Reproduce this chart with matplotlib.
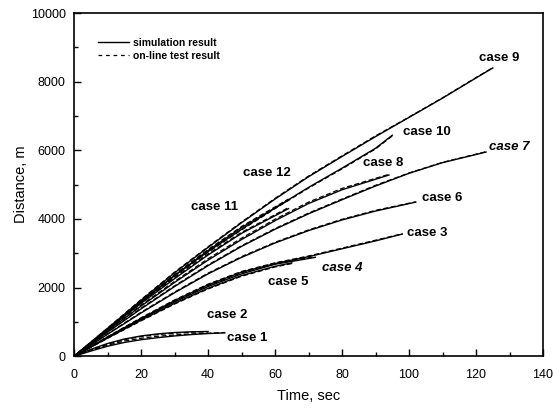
import matplotlib
matplotlib.use("Agg")
import matplotlib.pyplot as plt
from matplotlib.ticker import MultipleLocator

plt.rcParams['font.family'] = ['Liberation Sans', 'DejaVu Sans']

# time grids (sec) for each case
case_t = [
    [0, 5, 10, 15, 20, 25, 30, 35, 40, 45],                       # case 1
    [0, 5, 10, 15, 20, 25, 30, 35, 40],                           # case 2
    [0, 10, 20, 30, 40, 50, 60, 70, 80, 90, 98],                  # case 3
    [0, 10, 20, 30, 40, 50, 60, 72],                              # case 4
    [0, 10, 20, 30, 40, 50, 60, 65],                              # case 5
    [0, 10, 20, 30, 40, 50, 60, 70, 80, 90, 102],                 # case 6
    [0, 10, 20, 30, 40, 50, 60, 70, 80, 90, 100, 110, 123],       # case 7
    [0, 10, 20, 30, 40, 50, 60, 70, 80, 94],                      # case 8
    [0, 10, 20, 30, 40, 50, 60, 70, 80, 90, 100, 110, 120, 125],  # case 9
    [0, 10, 20, 30, 40, 50, 60, 70, 80, 90, 95],                  # case 10
    [0, 10, 20, 30, 40, 50, 64],                                  # case 11
    [0, 10, 20, 30, 40, 50, 64],                                  # case 12
]

# simulation result, distance (m)
case_sim = [
    [0, 150, 290, 400, 480, 540, 590, 630, 660, 680],
    [0, 200, 370, 500, 590, 650, 690, 710, 720],
    [0, 560, 1100, 1620, 2080, 2450, 2700, 2900, 3130, 3360, 3560],
    [0, 540, 1080, 1580, 2030, 2400, 2680, 2880],
    [0, 530, 1050, 1540, 1980, 2350, 2620, 2720],
    [0, 640, 1260, 1850, 2400, 2880, 3300, 3660, 3970, 4230, 4490],
    [0, 700, 1380, 2030, 2640, 3200, 3700, 4150, 4560, 4960, 5330, 5640, 5950],
    [0, 740, 1460, 2150, 2800, 3400, 3950, 4450, 4850, 5280],
    [0, 810, 1630, 2430, 3170, 3890, 4580, 5230, 5820, 6400, 6960, 7520, 8110, 8400],
    [0, 790, 1580, 2350, 3050, 3700, 4320, 4920, 5480, 6060, 6440],
    [0, 780, 1540, 2260, 2950, 3580, 4300],
    [0, 800, 1590, 2350, 3080, 3750, 4550],
]

# on-line test result, distance (m)
case_test = [
    [0, 170, 320, 440, 520, 580, 620, 650, 670, 690],
    [0, 180, 350, 480, 570, 630, 670, 700, 710],
    [0, 570, 1120, 1640, 2100, 2470, 2720, 2920, 3150, 3380, 3570],
    [0, 550, 1100, 1600, 2060, 2430, 2710, 2900],
    [0, 520, 1030, 1520, 1960, 2330, 2600, 2700],
    [0, 650, 1280, 1870, 2420, 2900, 3320, 3680, 3990, 4250, 4500],
    [0, 710, 1400, 2050, 2660, 3220, 3720, 4170, 4580, 4980, 5340, 5650, 5960],
    [0, 760, 1490, 2180, 2840, 3440, 3990, 4490, 4890, 5300],
    [0, 820, 1650, 2450, 3190, 3910, 4600, 5250, 5840, 6420, 6970, 7530, 8120, 8410],
    [0, 780, 1560, 2330, 3030, 3680, 4300, 4900, 5460, 6040, 6420],
    [0, 790, 1560, 2290, 2980, 3610, 4330],
    [0, 810, 1610, 2380, 3110, 3780, 4580],
]

case_names = ['case 1', 'case 2', 'case 3', 'case 4', 'case 5', 'case 6',
              'case 7', 'case 8', 'case 9', 'case 10', 'case 11', 'case 12']
label_x = [45.6, 39.7, 99.4, 74, 58, 104, 124, 86.3, 121, 98.2, 34.9, 50.4]
label_y = [520, 1200, 3590, 2560, 2160, 4600, 6100, 5630, 8690, 6530, 4340, 5330]
label_italic = [False, False, False, True, False, False, True, False, False, False, False, False]

fig = plt.figure(figsize=(5.53, 4.08), dpi=100)
ax = fig.add_axes([0.134, 0.127, 0.848, 0.841])

for t, s, d in zip(case_t, case_sim, case_test):
    ax.plot(t, s, color='black', lw=1.0, ls='-')
    ax.plot(t, d, color='black', lw=0.9, ls=(0, (4, 2)))

for name, x, y, it in zip(case_names, label_x, label_y, label_italic):
    ax.text(x, y, name, fontsize=9.5, fontweight='bold',
            style='italic' if it else 'normal', ha='left', va='center')

# legend
h1, = ax.plot([], [], color='black', lw=1.0, ls='-')
h2, = ax.plot([], [], color='black', lw=0.9, ls=(0, (3, 3)))
leg = ax.legend([h1, h2], ['simulation result', 'on-line test result'],
                loc='upper left', bbox_to_anchor=(0.03, 0.955), frameon=False,
                handlelength=3.0, handletextpad=0.4, labelspacing=0.3,
                prop={'size': 7.5, 'weight': 'bold'})

ax.set_xlim(0, 140)
ax.set_ylim(0, 10000)
ax.xaxis.set_major_locator(MultipleLocator(20))
ax.xaxis.set_minor_locator(MultipleLocator(10))
ax.yaxis.set_major_locator(MultipleLocator(2000))
ax.yaxis.set_minor_locator(MultipleLocator(1000))
ax.tick_params(which='both', direction='in', top=False, right=False, labelsize=9)
ax.tick_params(which='major', length=5, width=1)
ax.tick_params(which='minor', length=3, width=1)
ax.tick_params(axis='x', pad=9)
ax.tick_params(axis='y', pad=6)
for sp in ax.spines.values():
    sp.set_linewidth(1.2)

ax.set_xlabel('Time, sec', fontsize=10.5, labelpad=6)
ax.set_ylabel('Distance, m', fontsize=10.5, labelpad=2)

fig.savefig('out.png', dpi=100)
